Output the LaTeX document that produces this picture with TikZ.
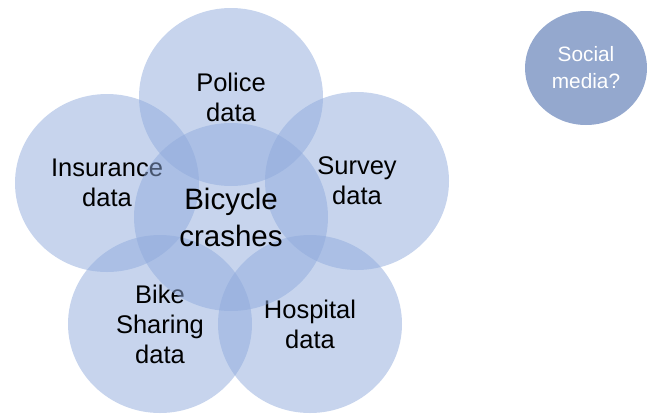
\documentclass[tikz,border=0pt]{standalone}
\usepackage{fontspec}
\setmainfont{Liberation Sans}
\usetikzlibrary{shapes.geometric}
\definecolor{venn}{RGB}{143,170,220}
\definecolor{socialblue}{RGB}{148,168,206}
\tikzstyle{source} = [ellipse, minimum width=184pt, minimum height=178pt, inner sep=0pt, fill=venn, fill opacity=0.5, text opacity=1, align=center, font=\fontsize{25.5}{30}\selectfont]
\tikzstyle{crash} = [source, minimum width=194pt, minimum height=188pt, font=\fontsize{29.5}{37}\selectfont]
\tikzstyle{extra} = [ellipse, minimum width=122pt, minimum height=114pt, inner sep=0pt, fill=socialblue, text=white, align=center, font=\fontsize{20.8}{27}\selectfont]

\begin{document}
\begin{tikzpicture}[x=1pt, y=-1pt]
    \useasboundingbox (0,0) rectangle (650,413);
    \node (police) [source] at (231,97) {Police\\data};
    \node (insurance) [source] at (107,183) {Insurance\\data};
    \node (survey) [source] at (357,181) {Survey\\data};
    \node (bike) [source] at (160,324) {Bike\\Sharing\\data};
    \node (hospital) [source] at (310,324) {Hospital\\data};
    \node (crashes) [crash] at (231,217) {Bicycle\\crashes};
    \node (social) [extra] at (586,68) {Social\\media?};
\end{tikzpicture}
\end{document}
